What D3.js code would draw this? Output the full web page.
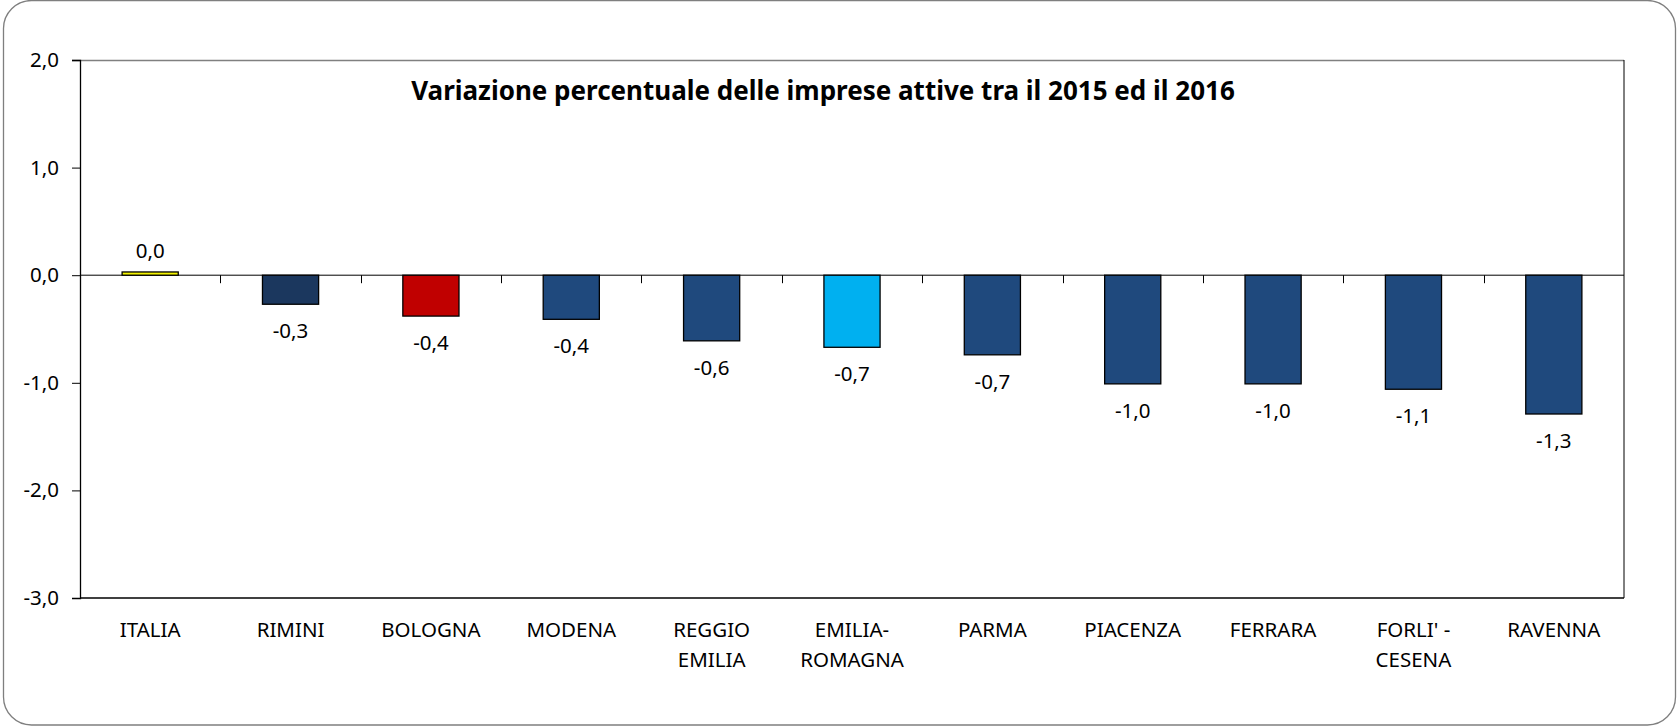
<!DOCTYPE html>
<html>
<head>
<meta charset="utf-8">
<script src="https://cdn.jsdelivr.net/npm/d3@7"></script>
<style>
  body { margin: 0; background: #fff; }
  svg { display: block; font-family: "Noto Sans", sans-serif; }
</style>
</head>
<body>
<div id="chart"></div>
<script>
// dati
const categories = ["ITALIA", "RIMINI", "BOLOGNA", "MODENA", "REGGIO EMILIA", "EMILIA-ROMAGNA",
    "PARMA", "PIACENZA", "FERRARA", "FORLI' - CESENA", "RAVENNA"];
const labelLines = [["ITALIA"], ["RIMINI"], ["BOLOGNA"], ["MODENA"], ["REGGIO", "EMILIA"], ["EMILIA-", "ROMAGNA"],
    ["PARMA"], ["PIACENZA"], ["FERRARA"], ["FORLI' -", "CESENA"], ["RAVENNA"]];
const values = [0.03, -0.27, -0.38, -0.41, -0.61, -0.67, -0.74, -1.01, -1.01, -1.06, -1.29];
const barColors = ["#f2f200", "#1b375e", "#c00000", "#1f497d", "#1f497d", "#00b0f0",
    "#1f497d", "#1f497d", "#1f497d", "#1f497d", "#1f497d"];
const yTicks = [2, 1, 0, -1, -2, -3];
const title = "Variazione percentuale delle imprese attive tra il 2015 ed il 2016";

const W = 1677, H = 726;
const margin = {top: 60, right: 53, bottom: 128, left: 80};
const width = W - margin.left - margin.right,
    height = H - margin.top - margin.bottom;

const it = d3.formatLocale({decimal: ",", thousands: ".", grouping: [3], currency: ["€", ""], minus: "-"});
const fmt = it.format(".1f");

const svg = d3.select("#chart").append("svg")
    .attr("width", W)
    .attr("height", H);

// cornice esterna arrotondata
svg.append("rect")
    .attr("x", 3.5).attr("y", 0.5)
    .attr("width", W - 5).attr("height", H - 1.5)
    .attr("rx", 28)
    .attr("fill", "#fff")
    .attr("stroke", "#7f7f7f")
    .attr("stroke-width", 1.3);

const chart = svg.append("g")
    .attr("transform", `translate(${margin.left}, ${margin.top})`);

const xScale = d3.scaleBand()
    .range([0, width])
    .domain(categories)
    .paddingInner(0.6)
    .paddingOuter(0.3);

const yScale = d3.scaleLinear()
    .range([0, height])
    .domain([2, -3]);

// bordo area del grafico
chart.append("line")
    .attr("x1", -8).attr("x2", width)
    .attr("y1", 0.5).attr("y2", 0.5)
    .attr("stroke", "#808080").attr("stroke-width", 1.5);
chart.append("line")
    .attr("x1", width).attr("x2", width)
    .attr("y1", 0).attr("y2", height)
    .attr("stroke", "#000").attr("stroke-width", 1);
chart.append("line")
    .attr("x1", 0).attr("x2", width)
    .attr("y1", height).attr("y2", height)
    .attr("stroke", "#000").attr("stroke-width", 1.3);

// asse y
const yAxis = chart.append("g")
    .call(d3.axisLeft(yScale).tickValues(yTicks).tickSize(8).tickFormat(fmt));
yAxis.select(".domain").attr("stroke", "#000").attr("stroke-width", 1.3);
yAxis.selectAll(".tick line").attr("stroke", "#000");
yAxis.selectAll(".tick text")
    .attr("x", -21)
    .attr("font-size", 20.5)
    .attr("font-family", "Noto Sans")
    .attr("fill", "#000");

// asse dello zero con tacche tra le categorie
const step = xScale.step();
const zeroAxis = chart.append("g")
    .attr("transform", `translate(0, ${yScale(0)})`);
zeroAxis.append("line")
    .attr("x1", 0).attr("x2", width)
    .attr("stroke", "#000").attr("stroke-width", 1);
zeroAxis.selectAll(".zt")
    .data(d3.range(1, categories.length))
    .enter()
    .append("line")
    .attr("x1", (i) => Math.round(i * step) + 0.5)
    .attr("x2", (i) => Math.round(i * step) + 0.5)
    .attr("y1", 0).attr("y2", 8)
    .attr("stroke", "#000");

// barre
const barGroups = chart.selectAll(".barg")
    .data(categories)
    .enter()
    .append("g");

barGroups.append("rect")
    .attr("x", (c) => xScale(c))
    .attr("width", xScale.bandwidth())
    .attr("y", (c, i) => yScale(Math.max(0, values[i])))
    .attr("height", (c, i) => Math.abs(yScale(values[i]) - yScale(0)))
    .attr("fill", (c, i) => barColors[i])
    .attr("stroke", "#000")
    .attr("stroke-width", 1.3);

barGroups.append("text")
    .attr("x", (c) => xScale(c) + xScale.bandwidth() / 2)
    .attr("y", (c, i) => values[i] >= 0 ? yScale(values[i]) - 14 : yScale(values[i]) + 34)
    .attr("text-anchor", "middle")
    .attr("font-size", 20.5)
    .attr("fill", "#000")
    .text((c, i) => fmt(values[i]));

// etichette delle categorie
const catLabels = chart.selectAll(".cat")
    .data(categories)
    .enter()
    .append("text")
    .attr("x", (c) => xScale(c) + xScale.bandwidth() / 2)
    .attr("y", height + 39)
    .attr("text-anchor", "middle")
    .attr("font-size", 20.5)
    .attr("fill", "#000");
catLabels.selectAll("tspan")
    .data((c, i) => labelLines[i])
    .enter()
    .append("tspan")
    .attr("x", function () { return this.parentNode.getAttribute("x"); })
    .attr("dy", (d, j) => j === 0 ? 0 : 30)
    .text((d) => d);

// titolo
svg.append("text")
    .attr("x", 823)
    .attr("y", 100)
    .attr("text-anchor", "middle")
    .attr("font-size", 26)
    .attr("font-weight", "bold")
    .attr("fill", "#000")
    .text(title);
</script>
</body>
</html>
